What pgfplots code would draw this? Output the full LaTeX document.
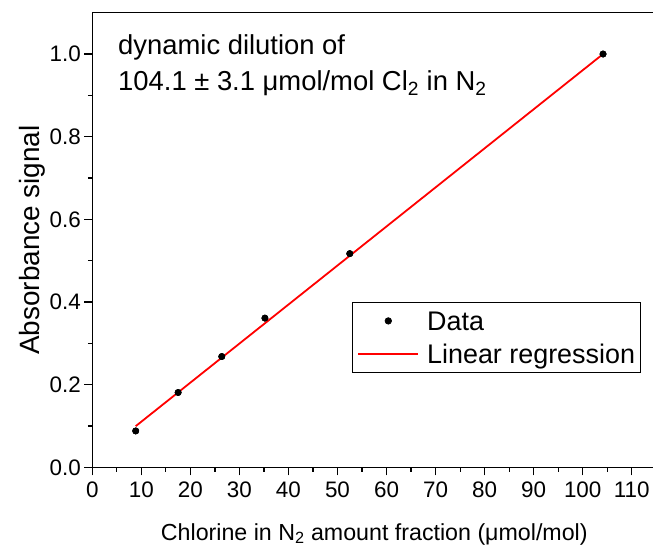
\documentclass[border=0pt]{standalone}
\usepackage{fontspec}
\setmainfont{Liberation Sans}
\usepackage{pgfplots}
\pgfplotsset{compat=1.18}
\pgfplotsset{
  dotlegend/.style={legend image code/.code={\draw[##1] plot coordinates {(30bp,0bp)};}},
  linelegend/.style={legend image code/.code={\draw[##1] (0bp,0bp) -- (60bp,0bp);}},
}
\begin{document}
\begin{tikzpicture}
\begin{axis}[
  scale only axis, width=563.96bp, height=454.6bp,
  xmin=0, xmax=115, ymin=0, ymax=1.1,
  axis line style={line width=1.5bp},
  xtick={0,10,20,30,40,50,60,70,80,90,100,110},
  ytick={0,0.2,0.4,0.6,0.8,1.0},
  minor x tick num=1, minor y tick num=1,
  tick align=outside, xtick pos=left, ytick pos=left,
  major tick length=8bp, minor tick length=4.5bp,
  every tick/.style={line width=1.2bp, black},
  /pgf/number format/assume math mode=true,
  ticklabel style={font=\fontsize{22.5}{27}\selectfont},
  yticklabel style={/pgf/number format/.cd, fixed, fixed zerofill, precision=1},
  xticklabel style={yshift=-3bp, /pgf/number format/.cd, fixed},
  xlabel={Chlorine in N\textsubscript{2} amount fraction (μmol/mol)},
  xlabel style={at={(rel axis cs:0.5,-0.16)}, anchor=base, inner sep=0pt, font=\fontsize{23.3}{28}\selectfont},
  ylabel={Absorbance signal},
  ylabel style={at={(rel axis cs:-0.0945,0.5)}, anchor=base, inner sep=0pt, font=\fontsize{28}{33}\selectfont},
  legend cell align=left,
  legend style={at={(rel axis cs:0.4605,0.3636)}, anchor=north west, draw=black, line width=0.8bp,
    inner xsep=5bp, inner ysep=4bp, row sep=4bp, column sep=8bp,
    font=\fontsize{27}{32}\selectfont,
    nodes={inner sep=0pt, text height=24bp, text depth=5bp},
    cells={anchor=west}},
]
\addplot[only marks, mark=*, mark size=3.2bp, black, dotlegend]
  coordinates {(8.85,0.088) (17.5,0.181) (26.4,0.268) (35.2,0.361) (52.5,0.517) (104.15,1.000)};
\addlegendentry{Data}
\addplot[red, line width=1.8bp, no marks, linelegend]
  coordinates {(8.85,0.0995) (104.15,1.0)};
\addlegendentry{Linear regression}
\addplot[only marks, mark=*, mark size=3.2bp, black, forget plot]
  coordinates {(8.85,0.088) (17.5,0.181) (26.4,0.268) (35.2,0.361) (52.5,0.517) (104.15,1.000)};
\node[anchor=base west, inner sep=0pt, font=\fontsize{27.5}{33}\selectfont] at (rel axis cs:0.0456,0.907) {dynamic dilution of};
\node[anchor=base west, inner sep=0pt, font=\fontsize{27.5}{33}\selectfont] at (rel axis cs:0.0456,0.8284) {104.1 ± 3.1 μmol/mol Cl\textsubscript{2} in N\textsubscript{2}};
\coordinate (bl) at (rel axis cs:0,0);
\end{axis}
\pgfresetboundingbox
\path ([xshift=-92.3bp,yshift=-78.7bp]bl) rectangle ([xshift=560.7bp,yshift=467.3bp]bl);
\end{tikzpicture}
\end{document}
